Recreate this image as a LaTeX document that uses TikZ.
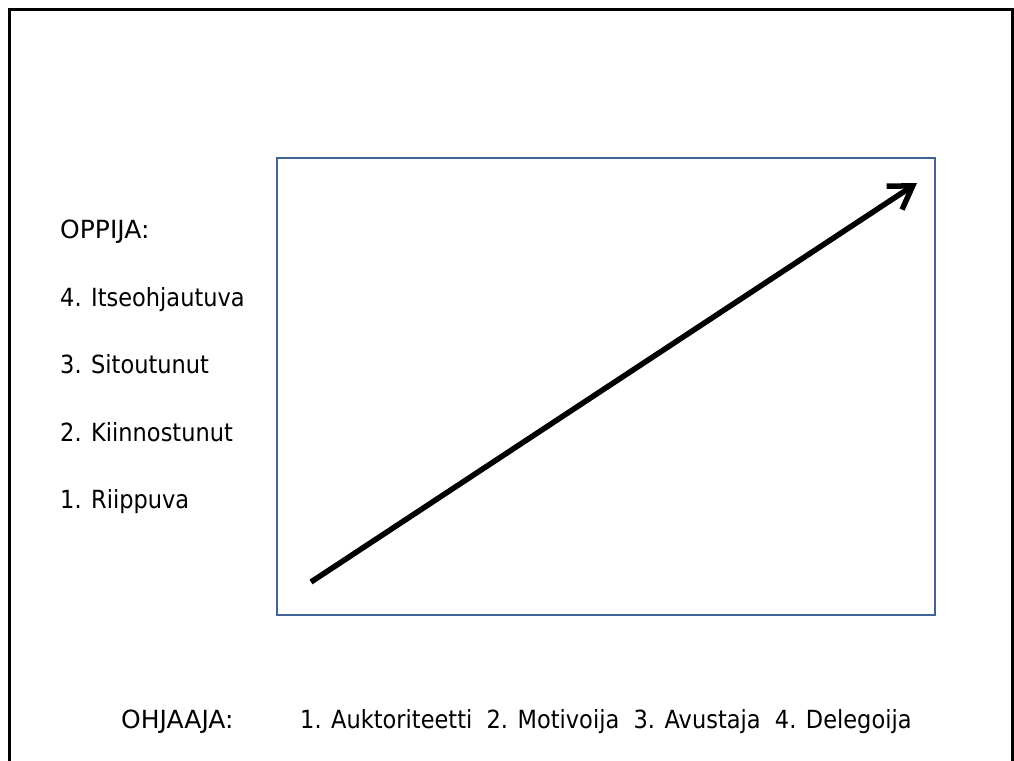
\documentclass[tikz,border=0pt]{standalone}
\usepackage{fontspec}
\setmainfont{DejaVu Sans}[FakeStretch=0.9]
\newfontfamily\capsfont{DejaVu Sans}
\usetikzlibrary{arrows.meta}
\definecolor{boxblue}{RGB}{65,100,150}
\begin{document}
\begin{tikzpicture}[x=1pt,y=-1pt,
  lbl/.style={anchor=base west, inner sep=0pt, font=\fontsize{25}{30}\selectfont},
  head/.style={lbl, font=\capsfont\fontsize{25}{30}\selectfont},
  frame/.style={line width=3pt},
  panel/.style={draw=boxblue, line width=2.5pt, inner sep=0pt},
  bigarrow/.style={line width=5.5pt, -{Straight Barb[length=22pt,width=28pt]}}]
\useasboundingbox (0,0) rectangle (1014,760);
\fill[white] (0,0) rectangle (1014,760);
\clip (0,0) rectangle (1014,760);
\draw[frame] (9.5,790) -- (9.5,9.5) -- (1012.5,9.5) -- (1012.5,790);
\node[panel, minimum width=658pt, minimum height=457pt] (box) at (606,386.5) {};
\coordinate (s) at (311,582);
\coordinate (e) at (917,183);
\draw[bigarrow] (s) -- (e);
\node[head] (oppija) at (60,238) {OPPIJA:};
\node[lbl] (l4) at (60,306) {4. Itseohjautuva};
\node[lbl] (l3) at (60,373) {3. Sitoutunut};
\node[lbl] (l2) at (60,441) {2. Kiinnostunut};
\node[lbl] (l1) at (60,508) {1. Riippuva};
\node[head] (ohjaaja) at (121,728) {OHJAAJA:};
\node[lbl] (roles) at (300,728) {1. Auktoriteetti\ \ 2. Motivoija\ \ 3. Avustaja\ \ 4. Delegoija};
\end{tikzpicture}
\end{document}
